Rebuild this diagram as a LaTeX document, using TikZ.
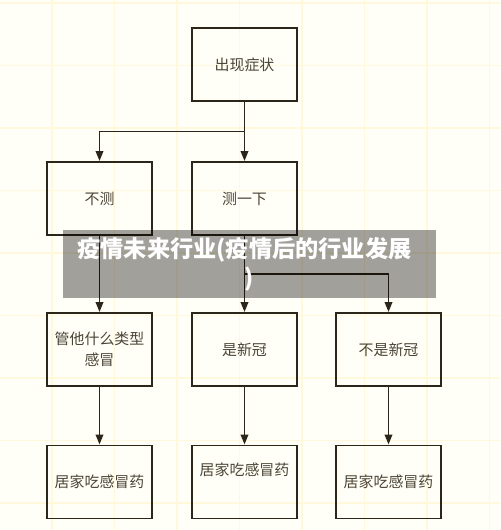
\documentclass[tikz,border=0pt]{standalone}
\usepackage{fontspec}
\usepackage{tikz}
\usetikzlibrary{arrows.meta,calc}
\newfontfamily\cjk{Noto Sans CJK SC}
\definecolor{paper}{RGB}{255,254,247}
\definecolor{gridcolor}{RGB}{255,248,218}
\definecolor{inkcolor}{RGB}{43,38,25}
\definecolor{txtcolor}{RGB}{75,69,54}

\begin{document}
\begin{tikzpicture}[
  x=0.02cm, y=-0.02cm,
  box/.style    = {rectangle, draw=inkcolor, line width=1.1pt,
                   minimum width=2.1cm, minimum height=1.46cm, align=center,
                   font=\cjk\fontsize{8.5}{12}\selectfont, text=txtcolor},
  arr/.style    = {-{Triangle[length=0.2cm,width=0.15cm]}, line width=1.1pt,
                   color=inkcolor},
  gridline/.style = {draw=gridcolor, line width=0.6pt},
  banner/.style = {rectangle, fill=black, fill opacity=0.37, text opacity=1,
                   minimum width=7.46cm, minimum height=1.36cm, align=center,
                   font=\cjk\bfseries\fontsize{13.2}{16.5}\selectfont, text=white}
]
\useasboundingbox[fill=paper] (0,0) rectangle (500,530);
\foreach \i in {0,...,7}{
  \draw[gridline] (52+62.5*\i,0) -- (52+62.5*\i,530);
}
\foreach \j in {0,...,8}{
  \draw[gridline] (0,3+62.5*\j) -- (500,3+62.5*\j);
}

\node[box] (symp)     at (244.5,64.5) {出现症状};
\node[box] (notest)   at (99.5,198.5) {不测};
\node[box] (test)     at (244.5,198.5) {测一下};
\node[box] (anykind)  at (99.5,349.5) {管他什么类型\\感冒};
\node[box] (covid)    at (244.5,349.5) {是新冠};
\node[box] (notcovid) at (388.5,349.5) {不是新冠};
\node[box] (med-a)    at (99.5,482) {居家吃感冒药};
\node[box, text depth=0.5cm] (med-b) at (244.5,482) {居家吃感冒药};
\node[box] (med-c)    at (388.5,482) {居家吃感冒药};

\coordinate (fork1) at ($(symp.south)!0.5!(test.north)$);
\coordinate (fork2) at ($(test.south)!0.5!(covid.north)$);
\draw[arr] (symp.south) -- (test.north);
\draw[arr] (fork1) -| (notest.north);
\draw[arr] (notest.south) -- (anykind.north);
\draw[arr] (test.south) -- (covid.north);
\draw[arr] (fork2) -| (notcovid.north);
\foreach \a/\b in {anykind/med-a, covid/med-b, notcovid/med-c}{
  \draw[arr] (\a.south) -- (\b.north);
}

\node[banner, inner xsep=0pt, xshift=-0.0cm] (title) at (249.5,264)
  {\hspace*{-0.2cm}疫情未来行业(疫情后的行业发展\\)};
\end{tikzpicture}
\end{document}
